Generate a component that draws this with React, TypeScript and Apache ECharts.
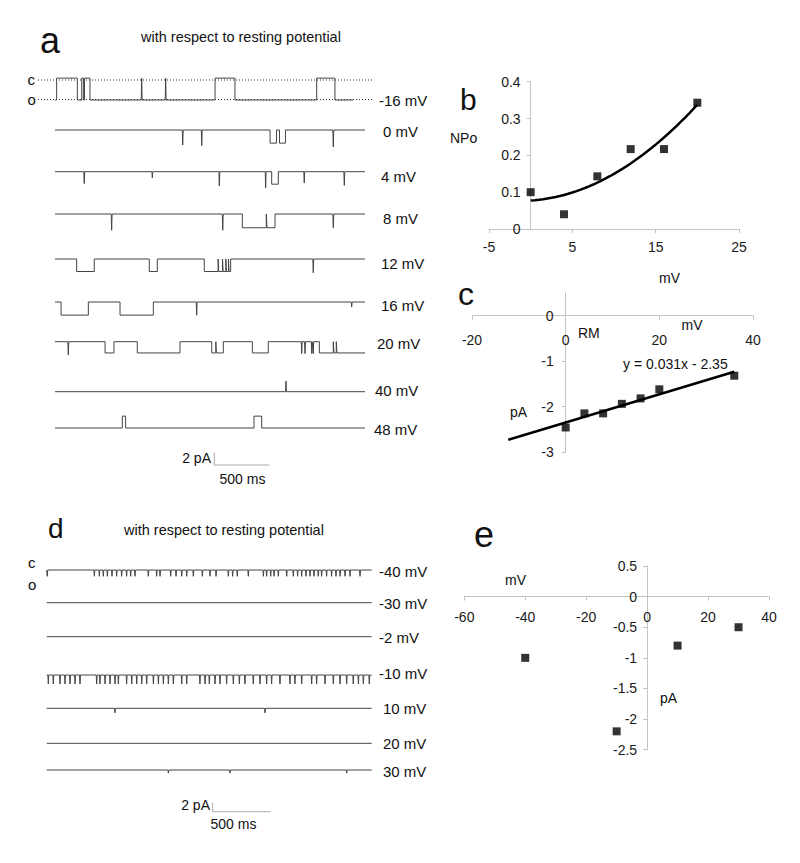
import React, { useEffect, useRef } from "react";
import * as echarts from "echarts";

// ---------------- Panel a: single-channel recordings (ms, pA) ----------------
const A_LABELS = ["-16 mV", "0 mV", "4 mV", "8 mV", "12 mV", "16 mV", "20 mV", "40 mV", "48 mV"];
const A_DURATION = [2709, 2818, 2818, 2818, 2818, 2818, 2818, 2818, 2818];
const A_AMPLITUDE = [3.5, -2.1, -2.0, -2.2, -2.0, -2.1, -1.8, 1.7, 1.9];
const A_OPENINGS: number[][][] = [
  [[15, 203], [243, 258], [268, 318], [1455, 1636], [2379, 2545]],
  [[1955, 2014], [2041, 2095]],
  [[1970, 2030]],
  [[1703, 1921], [1927, 2000]],
  [[197, 357], [857, 930], [1357, 1483], [1488, 1523], [1528, 1553], [1558, 1577], [1582, 1597]],
  [[55, 303], [591, 894]],
  [[455, 536], [748, 1136], [1425, 1462], [1467, 1530], [1794, 1939], [2403, 2530], [2536, 2557], [2563, 2818]],
  [],
  [[612, 642], [1809, 1879]],
];
const A_SPIKES: number[][][] = [
  [[788, 3.5], [1006, 3.5]],
  [[1161, -2.4], [1334, -2.5], [2530, -2.7]],
  [[266, -1.9], [885, -1.0], [1494, -2.3], [1915, -2.6], [2266, -1.8], [2630, -2.2]],
  [[515, -2.6], [1525, -2.6], [2530, -2.2]],
  [[2348, -2.2]],
  [[1288, -2.1], [2697, -0.8]],
  [[121, -2.1], [2243, -1.9], [2273, -1.9], [2334, -1.9], [2348, -1.9]],
  [[2100, 1.7]],
  [],
];

// ---------------- Panel d: recordings (ms, pA) ----------------
const D_LABELS = ["-40 mV", "-30 mV", "-2 mV", "-10 mV", "10 mV", "20 mV", "30 mV"];
const D_DURATION = 2802;
const D_SPIKE_TIMES: number[][] = [
  [5, 411, 454, 488, 523, 563, 603, 646, 689, 724, 761, 876, 948, 977, 1069, 1115, 1164, 1207, 1264, 1342, 1408, 1460,
    1566, 1603, 1643, 1738, 1868, 1896, 1931, 1960, 1997, 2069, 2126, 2163, 2198, 2235, 2270, 2304, 2341, 2370, 2413,
    2456, 2494, 2529, 2572, 2615, 2701],
  [],
  [],
  [14, 57, 115, 158, 201, 244, 287, 431, 459, 503, 546, 589, 618, 689, 733, 776, 819, 862, 920, 963, 1006, 1049, 1092,
    1164, 1207, 1321, 1365, 1402, 1451, 1494, 1551, 1609, 1661, 1709, 1781, 1839, 1896, 1939, 2011, 2097, 2140, 2198,
    2284, 2327, 2399, 2471, 2529, 2586, 2643, 2687, 2730, 2781],
  [589, 1882],
  [],
  [1049, 1580, 2586],
];
const D_SPIKE_DEPTH = [-1.4, 0, 0, -2.0, -1.0, 0, -0.7];

// ---------------- Panel b: NPo vs mV ----------------
const B_X = [0, 4, 8, 12, 16, 20];
const B_Y = [0.1, 0.04, 0.143, 0.217, 0.217, 0.343];
const B_X_TICKS = [-5, 5, 15, 25];

// ---------------- Panel c: I-V ----------------
const C_X = [0, 4, 8, 12, 16, 20, 36];
const C_Y = [-2.46, -2.15, -2.15, -1.94, -1.82, -1.62, -1.32];
const C_Y_TICKS = [-3, -2, -1, 0];
const C_SLOPE = 0.031;
const C_INTERCEPT = -2.35;
const C_FIT_RANGE = [-12.25, 36];

// ---------------- Panel e: I-V ----------------
const E_X = [-40, -10, 10, 30];
const E_Y = [-1.0, -2.2, -0.8, -0.5];

// ---------------- layout (pixels) ----------------
const FONT = '"Liberation Sans", Arial, sans-serif';
const A_LEFT = 55, A_PX_PER_MS = 0.11, A_PX_PER_PA = 6.25, A_MAX_T = 2818;
const A_BASE_Y = [100, 130, 171.7, 214, 259, 302, 341.7, 391.7, 428];
const A_LABEL_POS = [[379, 100], [383, 131], [381, 176], [383, 218], [381, 263], [381, 305], [377, 343], [375, 390], [374, 429]];
const D_LEFT = 46.7, D_PX_PER_MS = 0.116, D_PX_PER_PA = 4.5;
const D_BASE_Y = [570, 602.7, 636.7, 675, 708.3, 743.3, 770];
const D_LABEL_POS = [[379, 571.5], [379, 603], [379, 637], [379, 673], [383, 708], [383, 743], [383, 771.5]];
const B_BOX = { left: 489, width: 250, top: 81.7, height: 147.3 };
const C_BOX = { left: 472, width: 281, top: 293, height: 159 };
const E_BOX = { left: 464.3, width: 304.7, top: 566, height: 183.7 };

function buildTrace(duration: number, openings: number[][], amp: number, spikes: number[][]) {
  const ev: any[] = [
    ...openings.map(([s, e]) => ({ t: s, kind: "open", e })),
    ...spikes.map(([t, p]) => ({ t, kind: "spike", p })),
  ].sort((a, b) => a.t - b.t);
  const pts: number[][] = [[0, 0]];
  for (const v of ev) {
    if (v.kind === "open") {
      pts.push([v.t, 0], [v.t, amp]);
      if (v.e >= duration) {
        pts.push([duration, amp]);
        return pts;
      }
      pts.push([v.e, amp], [v.e, 0]);
    } else {
      pts.push([v.t - 4, 0], [v.t, v.p], [v.t + 4, 0]);
    }
  }
  pts.push([duration, 0]);
  return pts;
}

function quadFit(xs: number[], ys: number[]) {
  let s0 = 0, s1 = 0, s2 = 0, s3 = 0, s4 = 0, t0 = 0, t1 = 0, t2 = 0;
  xs.forEach((x, i) => {
    const y = ys[i];
    s0 += 1; s1 += x; s2 += x * x; s3 += x * x * x; s4 += x * x * x * x;
    t0 += y; t1 += x * y; t2 += x * x * y;
  });
  const M = [[s0, s1, s2, t0], [s1, s2, s3, t1], [s2, s3, s4, t2]];
  for (let i = 0; i < 3; i++) {
    for (let j = i + 1; j < 3; j++) {
      const f = M[j][i] / M[i][i];
      for (let k = i; k < 4; k++) M[j][k] -= f * M[i][k];
    }
  }
  const c = [0, 0, 0];
  for (let i = 2; i >= 0; i--) {
    let s = M[i][3];
    for (let k = i + 1; k < 3; k++) s -= M[i][k] * c[k];
    c[i] = s / M[i][i];
  }
  return c;
}

// offset that puts an axis at the zero of the crossing axis
const zeroOffsetX = (box: any, min: number, max: number) => -((0 - min) / (max - min)) * box.width; // for y axis (left)
const zeroOffsetY = (box: any, min: number, max: number) => -((0 - min) / (max - min)) * box.height; // for x axis (bottom)

const txt = (text: string, x: number, y: number, size: number, align = "left", fill = "#111") => ({
  type: "text",
  x,
  y,
  silent: true,
  style: { text, fontSize: size, fontFamily: FONT, fill, align, verticalAlign: "middle" },
});
const seg = (x1: number, y1: number, x2: number, y2: number, stroke: string, dash?: number[]) => ({
  type: "line",
  silent: true,
  shape: { x1, y1, x2, y2 },
  style: { stroke, lineWidth: 1, lineDash: dash || null },
});

export default function App() {
  const ref = useRef<HTMLDivElement>(null);
  useEffect(() => {
    if (!ref.current) return;
    const chart = echarts.init(ref.current, null, { renderer: "svg" });

    const grid: any[] = [];
    const xAxis: any[] = [];
    const yAxis: any[] = [];
    const series: any[] = [];
    const traceColor = "#444";

    A_LABELS.forEach((_, i) => {
      const gi = grid.length;
      grid.push({ left: A_LEFT, width: A_MAX_T * A_PX_PER_MS, top: A_BASE_Y[i] - 4 * A_PX_PER_PA, height: 8 * A_PX_PER_PA });
      xAxis.push({ gridIndex: gi, type: "value", min: 0, max: A_MAX_T, show: false });
      yAxis.push({ gridIndex: gi, type: "value", min: -4, max: 4, show: false });
      series.push({
        type: "line", xAxisIndex: gi, yAxisIndex: gi, showSymbol: false, silent: true,
        lineStyle: { width: 1, color: traceColor },
        data: buildTrace(A_DURATION[i], A_OPENINGS[i], A_AMPLITUDE[i], A_SPIKES[i]),
      });
    });
    D_LABELS.forEach((_, i) => {
      const gi = grid.length;
      grid.push({ left: D_LEFT, width: D_DURATION * D_PX_PER_MS, top: D_BASE_Y[i] - 4 * D_PX_PER_PA, height: 8 * D_PX_PER_PA });
      xAxis.push({ gridIndex: gi, type: "value", min: 0, max: D_DURATION, show: false });
      yAxis.push({ gridIndex: gi, type: "value", min: -4, max: 4, show: false });
      series.push({
        type: "line", xAxisIndex: gi, yAxisIndex: gi, showSymbol: false, silent: true,
        lineStyle: { width: 1, color: traceColor },
        data: buildTrace(D_DURATION, [], 0, D_SPIKE_TIMES[i].map((t) => [t, D_SPIKE_DEPTH[i]])),
      });
    });

    const axisLine = { onZero: false, lineStyle: { color: "#c4c4c4", width: 1 } };
    const axisTick = { show: true, length: 4, lineStyle: { color: "#c4c4c4" } };
    const lbl = (margin: number) => ({ color: "#1a1a1a", fontSize: 14, fontFamily: FONT, margin });

    // panel b
    const gb = grid.length;
    grid.push({ ...B_BOX });
    xAxis.push({
      gridIndex: gb, type: "value", min: -5, max: 25, interval: 10, position: "bottom", splitLine: { show: false },
      axisLine, axisTick: { ...axisTick, customValues: B_X_TICKS },
      axisLabel: { ...lbl(11), customValues: B_X_TICKS },
    });
    yAxis.push({
      gridIndex: gb, type: "value", min: 0, max: 0.4, interval: 0.1, position: "left",
      offset: zeroOffsetX(B_BOX, -5, 25), splitLine: { show: false },
      axisLine, axisTick, axisLabel: lbl(10),
    });
    const cf = quadFit(B_X, B_Y);
    const fitPts: number[][] = [];
    for (let x = B_X[0]; x <= B_X[B_X.length - 1] + 1e-9; x += 0.5) fitPts.push([x, cf[0] + cf[1] * x + cf[2] * x * x]);
    series.push({
      type: "line", xAxisIndex: gb, yAxisIndex: gb, showSymbol: false, silent: true, smooth: false,
      lineStyle: { width: 2.5, color: "#000" }, data: fitPts, z: 2,
    });
    series.push({
      type: "scatter", xAxisIndex: gb, yAxisIndex: gb, symbol: "rect", symbolSize: 8, silent: true,
      itemStyle: { color: "#000" }, data: B_X.map((x, i) => [x, B_Y[i]]), z: 3,
    });

    // panel c
    const gc = grid.length;
    grid.push({ ...C_BOX });
    xAxis.push({
      gridIndex: gc, type: "value", min: -20, max: 40, interval: 20, position: "bottom",
      offset: zeroOffsetY(C_BOX, -3, 0.5), splitLine: { show: false },
      axisLine, axisTick, axisLabel: lbl(17),
    });
    yAxis.push({
      gridIndex: gc, type: "value", min: -3, max: 0.5, interval: 1, position: "left",
      offset: zeroOffsetX(C_BOX, -20, 40), splitLine: { show: false },
      axisLine, axisTick: { ...axisTick, customValues: C_Y_TICKS },
      axisLabel: { ...lbl(12), customValues: C_Y_TICKS },
    });
    series.push({
      type: "line", xAxisIndex: gc, yAxisIndex: gc, showSymbol: false, silent: true,
      lineStyle: { width: 2.5, color: "#000" }, z: 2,
      data: C_FIT_RANGE.map((x) => [x, C_SLOPE * x + C_INTERCEPT]),
    });
    series.push({
      type: "scatter", xAxisIndex: gc, yAxisIndex: gc, symbol: "rect", symbolSize: 8, silent: true,
      itemStyle: { color: "#000" }, data: C_X.map((x, i) => [x, C_Y[i]]), z: 3,
    });

    // panel e
    const ge = grid.length;
    grid.push({ ...E_BOX });
    xAxis.push({
      gridIndex: ge, type: "value", min: -60, max: 40, interval: 20, position: "bottom",
      offset: zeroOffsetY(E_BOX, -2.5, 0.5), splitLine: { show: false },
      axisLine, axisTick, axisLabel: lbl(13),
    });
    yAxis.push({
      gridIndex: ge, type: "value", min: -2.5, max: 0.5, interval: 0.5, position: "left",
      offset: zeroOffsetX(E_BOX, -60, 40), splitLine: { show: false },
      axisLine, axisTick, axisLabel: lbl(10),
    });
    series.push({
      type: "scatter", xAxisIndex: ge, yAxisIndex: ge, symbol: "rect", symbolSize: 8, silent: true,
      itemStyle: { color: "#000" }, data: E_X.map((x, i) => [x, E_Y[i]]), z: 3,
    });

    const graphics: any[] = [];
    graphics.push(txt("a", 40, 40, 36));
    graphics.push(txt("b", 460, 99.5, 30));
    graphics.push(txt("c", 458, 294, 32));
    graphics.push(txt("d", 48, 528, 28));
    graphics.push(txt("e", 474, 534, 36));
    graphics.push(txt("with respect to resting potential", 141, 36.5, 14.5));
    graphics.push(txt("with respect to resting potential", 124, 530, 14.5));
    A_LABELS.forEach((l, i) => graphics.push(txt(l, A_LABEL_POS[i][0], A_LABEL_POS[i][1], 15)));
    D_LABELS.forEach((l, i) => graphics.push(txt(l, D_LABEL_POS[i][0], D_LABEL_POS[i][1], 15)));
    graphics.push(txt("c", 27.5, 79.5, 15));
    graphics.push(txt("o", 27.5, 99, 15));
    graphics.push(seg(38, 80, 372, 80, "#333", [1, 2]));
    graphics.push(seg(38, 99.5, 372, 99.5, "#333", [1, 2]));
    graphics.push(txt("c", 28, 562, 15));
    graphics.push(txt("o", 28, 584.5, 15));
    const barA = { x: 214.3, y: 465 };
    graphics.push(seg(barA.x, barA.y - 2 * A_PX_PER_PA, barA.x, barA.y, "#aaa"));
    graphics.push(seg(barA.x, barA.y, barA.x + 500 * A_PX_PER_MS, barA.y, "#aaa"));
    graphics.push(txt("2 pA", 211, 458, 14, "right"));
    graphics.push(txt("500 ms", 219.5, 478.5, 14));
    const barD = { x: 212.7, y: 811.7 };
    graphics.push(seg(barD.x, barD.y - 2 * D_PX_PER_PA, barD.x, barD.y, "#aaa"));
    graphics.push(seg(barD.x, barD.y, barD.x + 500 * D_PX_PER_MS, barD.y, "#aaa"));
    graphics.push(txt("2 pA", 210, 805, 14, "right"));
    graphics.push(txt("500 ms", 210.5, 823.5, 14));
    graphics.push(txt("NPo", 450, 137.5, 14));
    graphics.push(txt("mV", 659, 278, 14));
    graphics.push(txt("RM", 578, 333, 14));
    graphics.push(txt("mV", 681.5, 324.5, 14));
    graphics.push(txt("y = 0.031x - 2.35", 623, 363.5, 14));
    graphics.push(txt("pA", 510, 412, 14));
    graphics.push(txt("mV", 505, 580, 14));
    graphics.push(txt("pA", 660, 698, 14));

    chart.setOption({
      animation: false,
      backgroundColor: "#fff",
      grid,
      xAxis,
      yAxis,
      series,
      graphic: { elements: graphics },
    });
    return () => chart.dispose();
  }, []);
  return <div ref={ref} style={{ position: "absolute", left: 0, top: 0, width: 800, height: 863 }} />;
}
